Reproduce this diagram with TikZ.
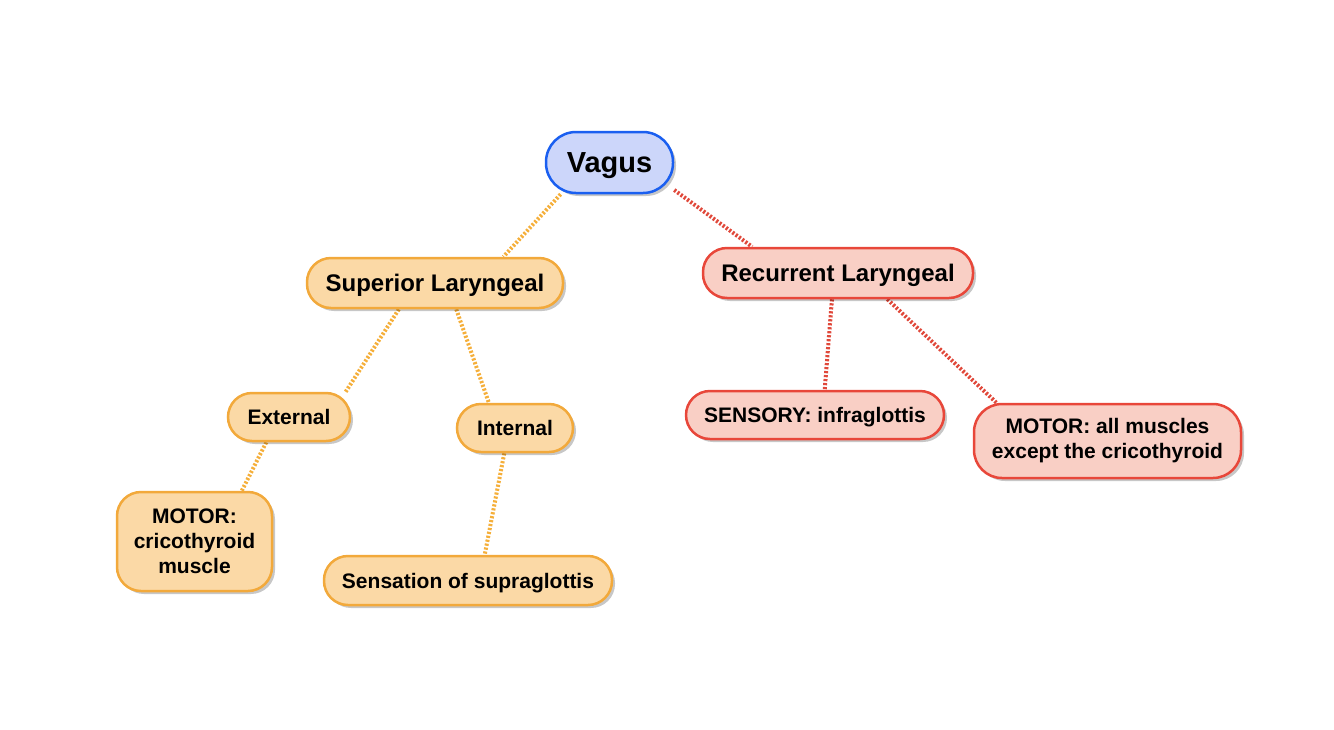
\documentclass[tikz,border=0pt]{standalone}
\usepackage{fontspec}
\setmainfont{Liberation Sans}
\usetikzlibrary{shadows,backgrounds}
\definecolor{blueL}{HTML}{CCD6FA}
\definecolor{blueD}{HTML}{1A5FF0}
\definecolor{orangeL}{HTML}{FBD9A6}
\definecolor{orangeD}{HTML}{F2A93B}
\definecolor{redL}{HTML}{F9CFC5}
\definecolor{redD}{HTML}{E8473A}
\definecolor{orangeC}{HTML}{F5AF3A}
\definecolor{redC}{HTML}{E0483A}
\tikzset{
  basebox/.style={draw, line width=2.5pt, rounded corners=24pt, inner sep=0pt, align=center,
    font=\bfseries\fontsize{21}{25}\selectfont,
    drop shadow={shadow xshift=3pt, shadow yshift=-3pt, opacity=0.22, fill=black}},
  oneline/.style={text depth=0pt},
  obox/.style={basebox, draw=orangeD, fill=orangeL},
  rbox/.style={basebox, draw=redD, fill=redL},
  bbox/.style={basebox, draw=blueD, fill=blueL, rounded corners=30pt, font=\bfseries\fontsize{29}{33}\selectfont},
  conn/.style={line width=4pt, dash pattern=on 2.2pt off 1.8pt},
  oconn/.style={conn, draw=orangeC},
  rconn/.style={conn, draw=redC}
}
\begin{document}
\begin{tikzpicture}[x=1pt,y=-1pt]
\useasboundingbox (0,0) rectangle (1334,729);
\node[bbox, oneline, minimum width=127pt, minimum height=61pt] (vagus) at (609.5,162.5) {Vagus};
\node[obox, oneline, minimum width=256pt, minimum height=50pt, font=\bfseries\fontsize{24}{28}\selectfont] (sup) at (435,283) {Superior Laryngeal};
\node[rbox, oneline, minimum width=270pt, minimum height=50pt, font=\bfseries\fontsize{24}{28}\selectfont] (rec) at (838,273) {Recurrent Laryngeal};
\node[obox, oneline, minimum width=122pt, minimum height=48pt] (ext) at (289,417) {External};
\node[obox, oneline, minimum width=116pt, minimum height=48pt] (int) at (515,428) {Internal};
\node[obox, minimum width=155pt, minimum height=99pt] (crico) at (194.5,541.5) {MOTOR:\\cricothyroid\\muscle};
\node[obox, oneline, minimum width=288pt, minimum height=49pt] (sens) at (468,580.5) {Sensation of supraglottis};
\node[rbox, oneline, minimum width=258pt, minimum height=48pt] (sensory) at (815,415) {SENSORY: infraglottis};
\node[rbox, minimum width=267pt, minimum height=74pt, rounded corners=28pt] (mall) at (1107.5,441) {MOTOR: all muscles\\except the cricothyroid};
\begin{pgfonlayer}{background}
\draw[oconn] (vagus.213) -- (sup.21);
\draw[rconn] (vagus.337) -- (rec.163);
\draw[oconn] (sup.216) -- (ext.24);
\draw[oconn] (sup.309) -- (int.136);
\draw[oconn] (ext.228) -- (crico.47);
\draw[oconn] (int.247) -- (sens.57);
\draw[rconn] (rec.257) -- (sensory.69);
\draw[rconn] (rec.332) -- (mall.161);
\end{pgfonlayer}
\end{tikzpicture}
\end{document}
